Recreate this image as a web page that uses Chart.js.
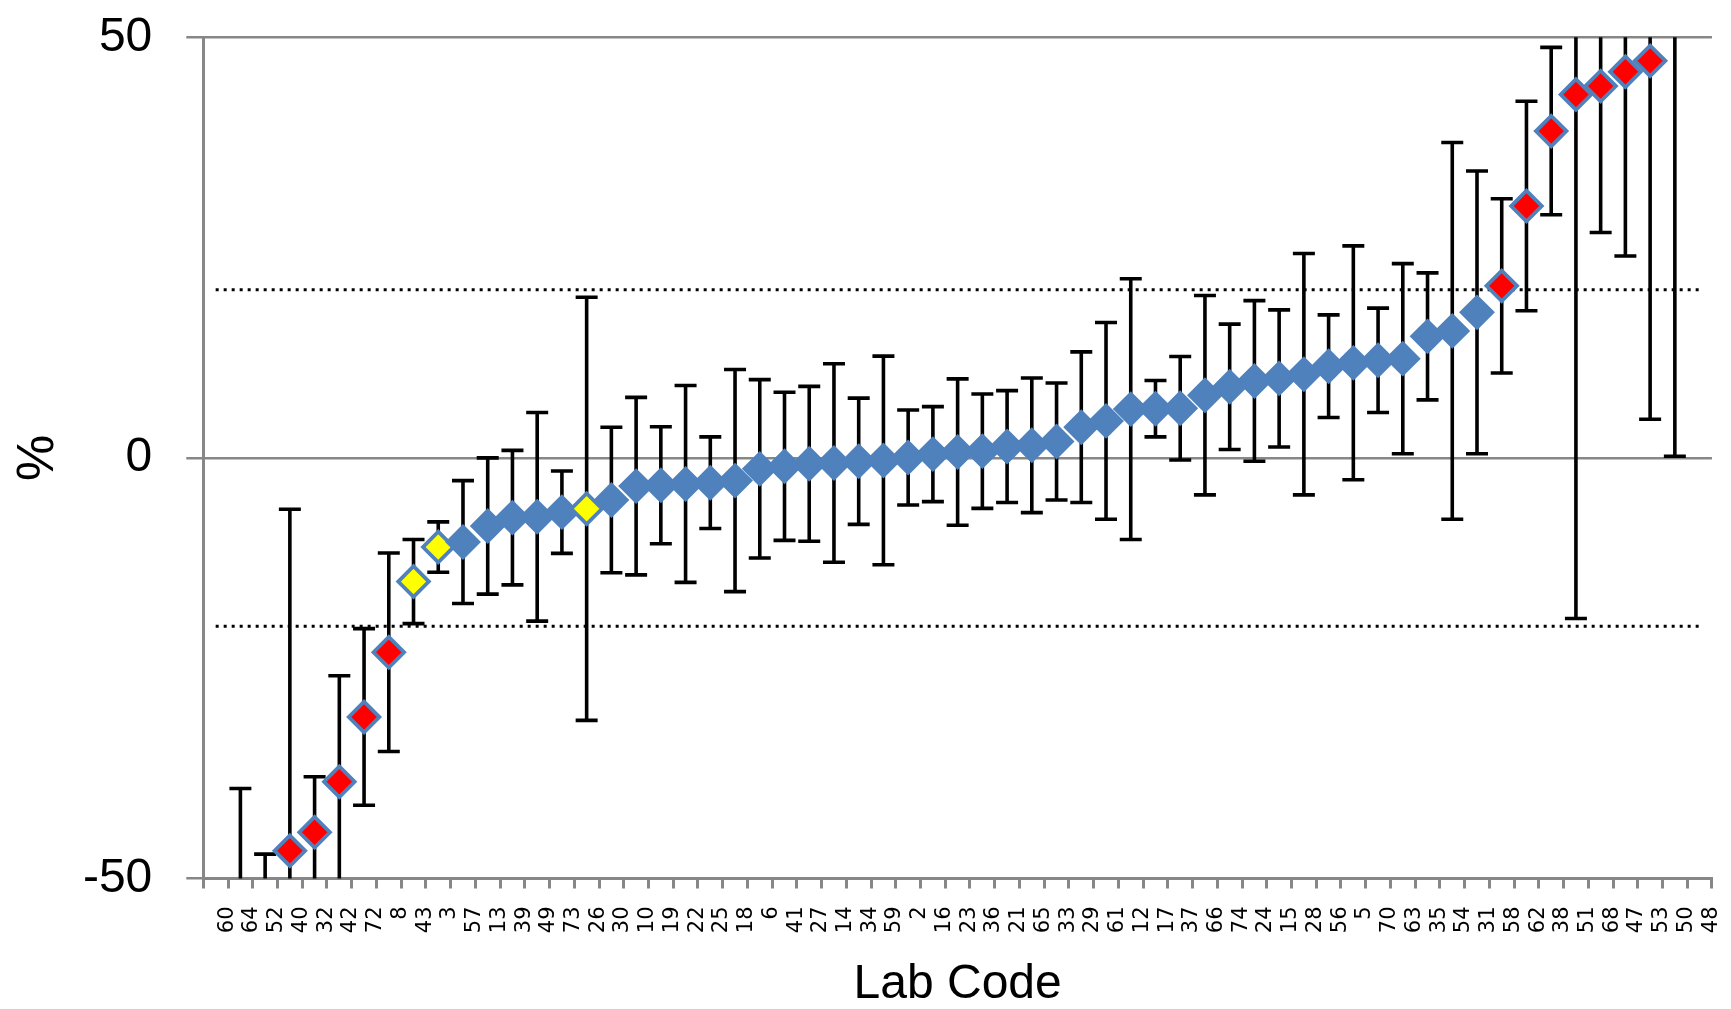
<!DOCTYPE html>
<html>
<head>
<meta charset="utf-8">
<script src="https://cdn.jsdelivr.net/npm/chart.js@4.4.1/dist/chart.umd.min.js"></script>
<style>
html, body { margin: 0; padding: 0; background: #ffffff; }
canvas { display: block; }
</style>
</head>
<body>
<canvas id="c" width="1731" height="1009"></canvas>
<script>
// ---- data ----
const labCodes = ['60','64','52','40','32','42','72','8','43','3','57','13','39','49','73','26','30','10','19','22','25','18','6','41','27','14','34','59','2','16','23','36','21','65','33','29','61','12','17','37','66','74','24','15','28','56','5','70','63','35','54','31','58','62','38','51','68','47','53','50','48'];

// deviation from assigned value, %
const deviation = [-90, -62, -56, -46.7, -44.5, -38.5, -30.8, -23.1, -14.7, -10.6,
  -10.0, -8.1, -7.1, -7.0, -6.45, -6.05, -5.0, -3.35, -3.25, -3.1,
  -2.95, -2.7, -1.3, -1.0, -0.7, -0.6, -0.4, -0.3, 0.05, 0.45,
  0.7, 0.8, 1.35, 1.5, 1.95, 3.65, 4.4, 5.8, 5.85, 5.9,
  7.45, 8.45, 9.15, 9.45, 9.95, 10.9, 11.3, 11.6, 11.8, 14.45,
  15.1, 17.3, 20.45, 29.95, 38.85, 43.2, 44.2, 45.9, 47.2, 62, 90];

// expanded uncertainty, % (error bar half-length)
const uncertainty = [25, 22.7, 8.9, 40.6, 6.6, 12.6, 10.5, 11.8, 5.0, 3.0,
  7.3, 8.1, 8.0, 12.4, 4.9, 25.15, 8.65, 10.55, 6.95, 11.7,
  5.45, 13.2, 10.6, 8.8, 9.2, 11.8, 7.5, 12.4, 5.65, 5.65,
  8.7, 6.8, 6.65, 8.0, 6.95, 8.95, 11.7, 15.5, 3.35, 6.15,
  11.85, 7.45, 9.55, 8.15, 14.35, 6.1, 13.9, 6.2, 11.3, 7.55,
  22.4, 16.8, 10.35, 12.45, 9.95, 62.3, 17.4, 21.9, 42.6, 61.8, 30];

// performance class of each lab
const status = ['out','out','out','out','out','out','out','out','warn','warn',
  'ok','ok','ok','ok','ok','warn','ok','ok','ok','ok',
  'ok','ok','ok','ok','ok','ok','ok','ok','ok','ok',
  'ok','ok','ok','ok','ok','ok','ok','ok','ok','ok',
  'ok','ok','ok','ok','ok','ok','ok','ok','ok','ok',
  'ok','ok','out','out','out','out','out','out','out','out','out'];

const yTicks = [-50, 0, 50];
const limitUpper = 20;
const limitLower = -20;

// ---- styling ----
const BLUE = '#4f81bd';
const fillFor = { ok: BLUE, warn: '#ffff00', out: '#ff0000' };
const GRID = '#878787';

const errorBars = {
  id: 'errorBars',
  beforeDatasetDraw(chart, args) {
    if (args.index !== 0) return;
    const { ctx, chartArea: a, scales } = chart;
    const x = scales.x, y = scales.y;
    ctx.save();
    ctx.beginPath();
    ctx.rect(a.left, a.top, a.right - a.left, a.bottom - a.top);
    ctx.clip();
    ctx.strokeStyle = '#000000';
    ctx.lineWidth = 3.6;
    ctx.lineCap = 'butt';
    const capHalf = 11;
    deviation.forEach((v, i) => {
      const px = x.getPixelForValue(i);
      const hi = y.getPixelForValue(v + uncertainty[i]);
      const lo = y.getPixelForValue(v - uncertainty[i]);
      ctx.beginPath();
      ctx.moveTo(px, hi); ctx.lineTo(px, lo);
      ctx.moveTo(px - capHalf, hi); ctx.lineTo(px + capHalf, hi);
      ctx.moveTo(px - capHalf, lo); ctx.lineTo(px + capHalf, lo);
      ctx.stroke();
    });
    ctx.restore();
  }
};

new Chart(document.getElementById('c'), {
  type: 'line',
  data: {
    labels: labCodes,
    datasets: [
      {
        label: 'Lab result',
        data: deviation,
        showLine: false,
        pointStyle: 'rectRot',
        pointRadius: 15.3,
        pointHoverRadius: 15.3,
        pointBorderWidth: 3.75,
        pointBorderColor: BLUE,
        pointBackgroundColor: (c) => fillFor[status[c.dataIndex]] || BLUE,
        borderColor: BLUE,
        order: 0
      },
      {
        label: 'Upper limit',
        data: labCodes.map(() => limitUpper),
        borderColor: '#000000',
        borderWidth: 3,
        borderDash: [3, 5],
        pointRadius: 0,
        fill: false,
        order: 1
      },
      {
        label: 'Lower limit',
        data: labCodes.map(() => limitLower),
        borderColor: '#000000',
        borderWidth: 3,
        borderDash: [3, 5],
        pointRadius: 0,
        fill: false,
        order: 2
      }
    ]
  },
  options: {
    responsive: false,
    animation: false,
    devicePixelRatio: 1,
    layout: { padding: { top: 37.3, right: 18, bottom: 0, left: 0 } },
    plugins: { legend: { display: false }, tooltip: { enabled: false } },
    scales: {
      x: {
        type: 'category',
        offset: true,
        grid: { display: true, drawOnChartArea: false, drawTicks: true, tickLength: 10, offset: true, color: GRID, lineWidth: 3 },
        border: { display: true, color: GRID, width: 3 },
        ticks: {
          autoSkip: false, minRotation: 90, maxRotation: 90,
          labelOffset: 11.6, padding: 18,
          font: { family: 'DejaVu Sans', size: 21 }, color: '#000000'
        },
        title: {
          display: true, text: 'Lab Code', color: '#000000',
          font: { family: 'Liberation Sans', size: 48 },
          padding: { top: 0, bottom: -5 }
        },
        afterFit: (s) => { s.height = 1009 - 878.5; s.paddingLeft = 0; s.paddingRight = 0; }
      },
      y: {
        min: -50, max: 50,
        afterBuildTicks: (s) => { s.ticks = yTicks.map(v => ({ value: v })); },
        grid: { color: GRID, lineWidth: 2.5, drawTicks: true, tickLength: 17 },
        border: { display: true, color: GRID, width: 3 },
        ticks: { padding: 34, font: { family: 'Liberation Sans', size: 48 }, color: '#000000' },
        title: {
          display: true, text: '%', color: '#000000',
          font: { family: 'Liberation Sans', size: 52 },
          padding: { top: 7, bottom: 0 }
        },
        afterFit: (s) => { s.width = 203.3; s.paddingTop = 0; s.paddingBottom = 0; }
      }
    }
  },
  plugins: [errorBars]
});
</script>
</body>
</html>
